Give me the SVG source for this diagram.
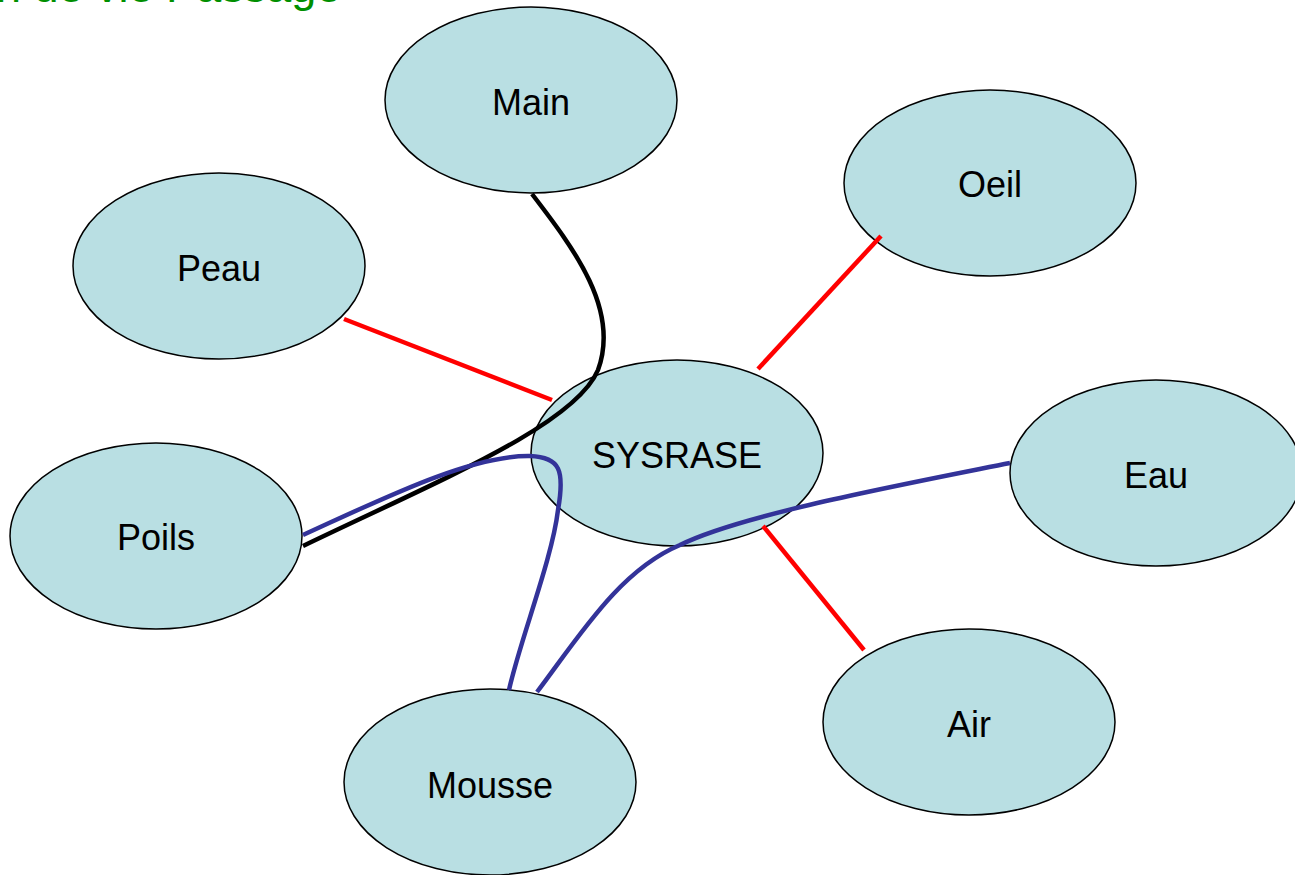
<svg xmlns="http://www.w3.org/2000/svg" width="1295" height="875" viewBox="0 0 1295 875">
<style>
.node ellipse{fill:#b9dfe3;stroke:#000;stroke-width:1.5}
.node text{font-family:"Liberation Sans",Arial,sans-serif;font-size:36px;fill:#000;text-anchor:middle}
.red{stroke:#ff0000;stroke-width:4.5;fill:none}
.blk{stroke:#000;stroke-width:4.5;fill:none}
.blu{stroke:#333399;stroke-width:4.5;fill:none}
</style>
<rect width="1295" height="875" fill="#fff"/>
<text x="-4" y="2" font-family="'Liberation Sans',Arial,sans-serif" font-size="45" fill="#008f00">n de vie Passage</text>
<g id="n-main" class="node"><ellipse cx="531" cy="100" rx="146" ry="93"/><text x="531" y="115">Main</text></g>
<g id="n-oeil" class="node"><ellipse cx="990" cy="183" rx="146" ry="93"/><text x="990" y="197">Oeil</text></g>
<g id="n-peau" class="node"><ellipse cx="219" cy="266" rx="146" ry="93"/><text x="219" y="281">Peau</text></g>
<g id="n-sysrase" class="node"><ellipse cx="677" cy="453" rx="146" ry="93"/><text x="677" y="468">SYSRASE</text></g>
<g id="n-eau" class="node"><ellipse cx="1156" cy="473" rx="146" ry="93"/><text x="1156" y="488">Eau</text></g>
<g id="n-poils" class="node"><ellipse cx="156" cy="536" rx="146" ry="93"/><text x="156" y="550">Poils</text></g>
<g id="n-air" class="node"><ellipse cx="969" cy="722" rx="146" ry="93"/><text x="969" y="737">Air</text></g>
<g id="n-mousse" class="node"><ellipse cx="490" cy="782" rx="146" ry="93"/><text x="490" y="798">Mousse</text></g>
<g id="connectors">
<line class="red" x1="344" y1="319" x2="552" y2="400"/>
<line class="red" x1="881" y1="236" x2="758" y2="369"/>
<line class="red" x1="763" y1="526" x2="864" y2="650"/>
<path class="blk" d="M532,194 C575,250 620,310 598,370 C575,425 440,480 303,546"/>
<path class="blu" d="M303,535 C380,500 470,455 530,456 C560,457 565,470 558,510 C552,560 520,640 509,690"/>
<path class="blu" d="M537,692 C580,635 620,570 680,545 C740,515 900,485 1010,463"/>
</g>
</svg>
